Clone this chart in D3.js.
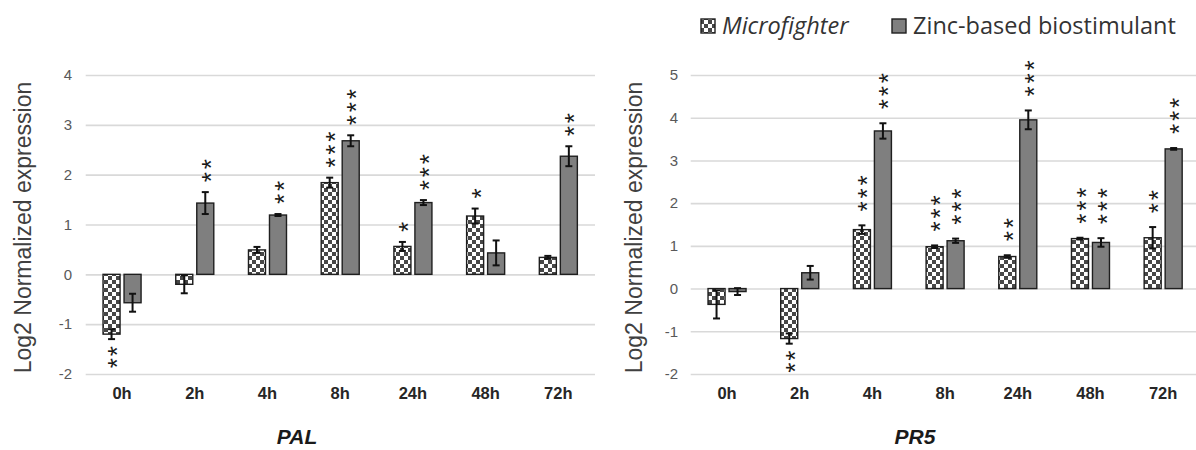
<!DOCTYPE html>
<html>
<head>
<meta charset="utf-8">
<script src="https://cdn.jsdelivr.net/npm/d3@7"></script>
<style>
  html, body { margin: 0; padding: 0; background: #fff; }
  svg { display: block; font-family: "Liberation Sans", Arial, sans-serif; }
</style>
</head>
<body>
<svg id="chart" width="1196" height="450"></svg>
<script>
// Sampling times and treatments
const categories = ["0h", "2h", "4h", "8h", "24h", "48h", "72h"];
const seriesNames = ["Microfighter", "Zinc-based biostimulant"];

// PAL: log2 normalized expression, standard error, significance stars
const palMicro     = [-1.20, -0.20, 0.49, 1.84, 0.56, 1.17, 0.34];
const palMicroErr  = [0.10, 0.18, 0.06, 0.10, 0.09, 0.15, 0.03];
const palMicroSig  = [2, 0, 0, 3, 1, 1, 0];
const palZinc      = [-0.57, 1.43, 1.19, 2.68, 1.44, 0.43, 2.37];
const palZincErr   = [0.18, 0.22, 0.02, 0.11, 0.05, 0.25, 0.20];
const palZincSig   = [0, 2, 2, 3, 3, 0, 2];
const palTicks     = [-2, -1, 0, 1, 2, 3, 4];

// PR5
const pr5Micro     = [-0.37, -1.17, 1.38, 0.98, 0.75, 1.17, 1.19];
const pr5MicroErr  = [0.33, 0.12, 0.10, 0.03, 0.03, 0.02, 0.25];
const pr5MicroSig  = [0, 2, 3, 3, 2, 3, 2];
const pr5Zinc      = [-0.07, 0.37, 3.69, 1.12, 3.95, 1.08, 3.27];
const pr5ZincErr   = [0.08, 0.16, 0.18, 0.05, 0.22, 0.10, 0.02];
const pr5ZincSig   = [0, 0, 3, 3, 3, 3, 3];
const pr5Ticks     = [-2, -1, 0, 1, 2, 3, 4, 5];

const svg = d3.select("#chart");
const defs = svg.append("defs");

// checkerboard fill for the Microfighter bars
const cell = 4;
const pat = defs.append("pattern")
  .attr("id", "checker")
  .attr("patternUnits", "userSpaceOnUse")
  .attr("width", cell * 2).attr("height", cell * 2);
pat.append("rect").attr("width", cell * 2).attr("height", cell * 2).attr("fill", "#ffffff");
pat.append("rect").attr("width", cell).attr("height", cell).attr("fill", "#474747");
pat.append("rect").attr("x", cell).attr("y", cell).attr("width", cell).attr("height", cell).attr("fill", "#474747");

const fills = { "Microfighter": "url(#checker)", "Zinc-based biostimulant": "#7f7f7f" };

function panel(cfg) {
  const g = svg.append("g");
  const y = d3.scaleLinear().domain(cfg.domain).range([cfg.bottom, cfg.top]);
  const x0 = d3.scaleBand().domain(categories).range([cfg.left, cfg.right])
    .paddingInner(0.477).paddingOuter(0.2385);
  const x1 = d3.scaleBand().domain(seriesNames).range([0, x0.bandwidth()]).paddingInner(0.19);

  // gridlines + y tick labels
  const yAxis = d3.axisLeft(y).tickValues(cfg.ticks).tickFormat(d => String(d))
    .tickSize(-(cfg.gridRight - cfg.left)).tickPadding(cfg.left - cfg.tickX);
  const ya = g.append("g").attr("transform", `translate(${cfg.left},0)`).call(yAxis);
  ya.select(".domain").remove();
  ya.selectAll(".tick line").attr("stroke", "#d9d9d9").attr("stroke-width", 1.6);
  ya.selectAll(".tick text").attr("fill", "#595959")
    .style("font-size", "15px").style("font-family", "'Liberation Sans', Arial, sans-serif");

  // x category labels
  const xAxis = d3.axisBottom(x0).tickSize(0).tickPadding(0);
  const xa = g.append("g").attr("transform", `translate(0,${cfg.labelY})`).call(xAxis);
  xa.select(".domain").remove();
  xa.selectAll(".tick text").attr("fill", "#262626").attr("dy", "0")
    .style("font-size", "16.5px").style("font-weight", "bold")
    .style("font-family", "'Liberation Sans', Arial, sans-serif");

  // y title
  g.append("text")
    .attr("transform", `translate(${cfg.titleX},${(cfg.top + cfg.bottom) / 2 + 3}) rotate(-90)`)
    .attr("text-anchor", "middle").attr("dy", "0.35em")
    .attr("fill", "#404040").style("font-size", "23px")
    .text("Log2 Normalized expression");

  // gene name
  g.append("text")
    .attr("x", cfg.geneX).attr("y", cfg.geneY).attr("text-anchor", "middle")
    .attr("fill", "#1a1a1a").style("font-size", "21px")
    .style("font-weight", "bold").style("font-style", "italic")
    .text(cfg.gene);

  const rows = [];
  categories.forEach((c, i) => {
    rows.push({ cat: c, s: seriesNames[0], v: cfg.micro[i], e: cfg.microErr[i], sig: cfg.microSig[i] });
    rows.push({ cat: c, s: seriesNames[1], v: cfg.zinc[i], e: cfg.zincErr[i], sig: cfg.zincSig[i] });
  });
  const cx = d => x0(d.cat) + x1(d.s) + x1.bandwidth() / 2;

  // bars
  g.append("g").selectAll("rect").data(rows).join("rect")
    .attr("x", d => x0(d.cat) + x1(d.s))
    .attr("width", x1.bandwidth())
    .attr("y", d => y(Math.max(0, d.v)))
    .attr("height", d => Math.abs(y(d.v) - y(0)))
    .attr("fill", d => fills[d.s])
    .attr("stroke", "#1f1f1f").attr("stroke-width", 1.4);

  // error bars
  const eg = g.append("g").attr("stroke", "#111").attr("stroke-width", 2).attr("fill", "none");
  rows.forEach(d => {
    const xc = cx(d), yt = y(d.v + d.e), yb = y(d.v - d.e), cap = 3.5;
    eg.append("line").attr("x1", xc).attr("x2", xc).attr("y1", yt).attr("y2", yb);
    eg.append("line").attr("x1", xc - cap).attr("x2", xc + cap).attr("y1", yt).attr("y2", yt);
    eg.append("line").attr("x1", xc - cap).attr("x2", xc + cap).attr("y1", yb).attr("y2", yb);
  });

  // significance stars, stacked vertically
  const sg = g.append("g").attr("fill", "#1a1a1a").style("font-size", "26px");
  rows.forEach(d => {
    for (let k = 0; k < d.sig; k++) {
      const yy = d.v >= 0 ? y(d.v + d.e) - cfg.starGap - k * 13
                          : y(d.v - d.e) + 12 + k * 12;
      sg.append("text")
        .attr("transform", `translate(${cx(d)},${yy}) rotate(-90)`)
        .attr("text-anchor", "middle").attr("dy", "0.56em")
        .text("*");
    }
  });
}

panel({
  gene: "PAL", domain: [-2, 4], ticks: palTicks,
  micro: palMicro, microErr: palMicroErr, microSig: palMicroSig,
  zinc: palZinc, zincErr: palZincErr, zincSig: palZincSig,
  left: 85.7, right: 594.7, gridRight: 595, top: 75, bottom: 374,
  tickX: 72, titleX: 23, labelY: 399, geneX: 297, geneY: 444, starGap: 15
});

panel({
  gene: "PR5", domain: [-2, 5], ticks: pr5Ticks,
  micro: pr5Micro, microErr: pr5MicroErr, microSig: pr5MicroSig,
  zinc: pr5Zinc, zincErr: pr5ZincErr, zincSig: pr5ZincSig,
  left: 690.7, right: 1199.5, gridRight: 1196, top: 75, bottom: 374,
  tickX: 678, titleX: 634, labelY: 399, geneX: 915, geneY: 444, starGap: 19
});

// legend
const legendItems = [
  { name: seriesNames[0], x: 701, italic: true },
  { name: seriesNames[1], x: 892, italic: false }
];
const lg = svg.append("g");
legendItems.forEach(it => {
  lg.append("rect").attr("x", it.x).attr("y", 19).attr("width", 14).attr("height", 14)
    .attr("fill", fills[it.name]).attr("stroke", "#1f1f1f").attr("stroke-width", 1.4);
  lg.append("text").attr("x", it.x + 21).attr("y", 26).attr("dy", "0.35em")
    .attr("fill", "#333").style("font-size", "23.5px")
    .style("font-family", "'Open Sans', 'Liberation Sans', sans-serif")
    .style("font-style", it.italic ? "italic" : "normal")
    .text(it.name);
});
</script>
</body>
</html>
